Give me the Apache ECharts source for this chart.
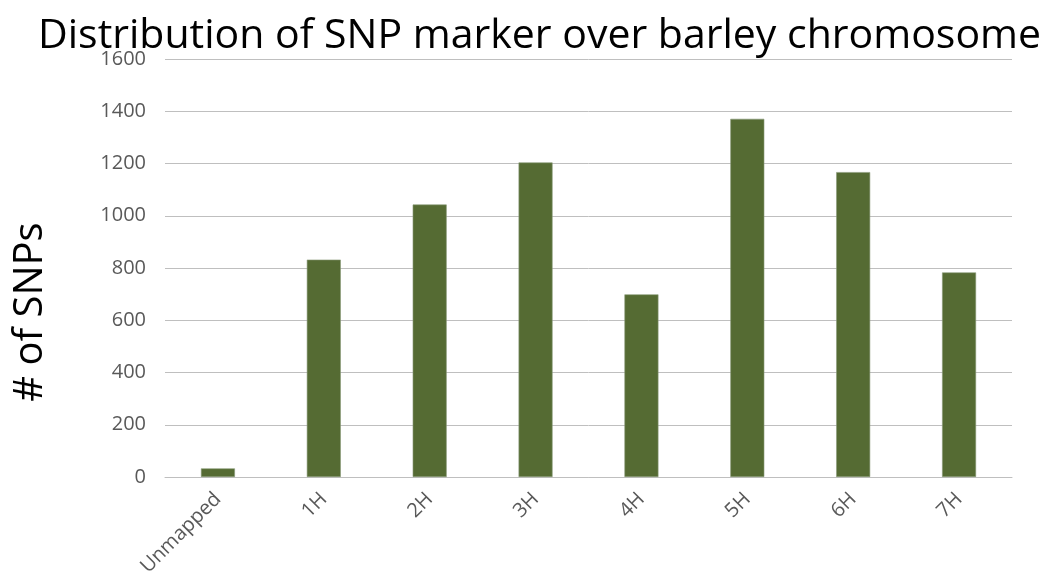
<!DOCTYPE html>
<html>
<head>
<meta charset="utf-8">
<script src="https://cdn.jsdelivr.net/npm/echarts@6/dist/echarts.min.js"></script>
<style>html,body{margin:0;padding:0;background:#fff;}#c{width:1056px;height:582px;}</style>
</head>
<body>
<div id="c"></div>
<script>
const categories = ['Unmapped', '1H', '2H', '3H', '4H', '5H', '6H', '7H'];
const snpCounts = [33, 832, 1043, 1204, 699, 1371, 1167, 783];
const yTicks = { min: 0, max: 1600, interval: 200 };

const chart = echarts.init(document.getElementById('c'), null, { renderer: 'canvas' });
chart.setOption({
  backgroundColor: '#ffffff',
  animation: false,
  title: {
    text: 'Distribution of SNP marker over barley chromosome',
    left: 33,
    top: 11,
    textStyle: { fontFamily: 'Open Sans', fontWeight: 'normal', fontSize: 41, color: '#000000' }
  },
  graphic: [{
    type: 'text',
    x: 31,
    y: 312,
    rotation: Math.PI / 2,
    style: {
      text: '# of SNPs',
      fontFamily: 'Open Sans',
      fontSize: 40,
      fill: '#000000',
      align: 'center',
      verticalAlign: 'middle'
    }
  }],
  grid: { left: 165, right: 44, top: 59, bottom: 105, containLabel: false },
  xAxis: {
    type: 'category',
    data: categories,
    axisLine: { lineStyle: { color: '#bfbfbf', width: 1 } },
    axisTick: { show: false },
    axisLabel: { rotate: 45, color: '#595959', fontSize: 20, fontFamily: 'Open Sans', margin: 19, interval: 0 }
  },
  yAxis: {
    type: 'value',
    min: yTicks.min, max: yTicks.max, interval: yTicks.interval,
    axisLine: { show: false },
    axisTick: { show: false },
    axisLabel: { color: '#595959', fontSize: 20, fontFamily: 'Open Sans', margin: 19, formatter: function (v) { return String(v); } },
    splitLine: { lineStyle: { color: '#bfbfbf', width: 1 } }
  },
  series: [{
    type: 'bar',
    data: snpCounts,
    barWidth: 34,
    itemStyle: { color: '#556b33', borderColor: '#8a9a78', borderWidth: 0.6 }
  }]
});
</script>
</body>
</html>
